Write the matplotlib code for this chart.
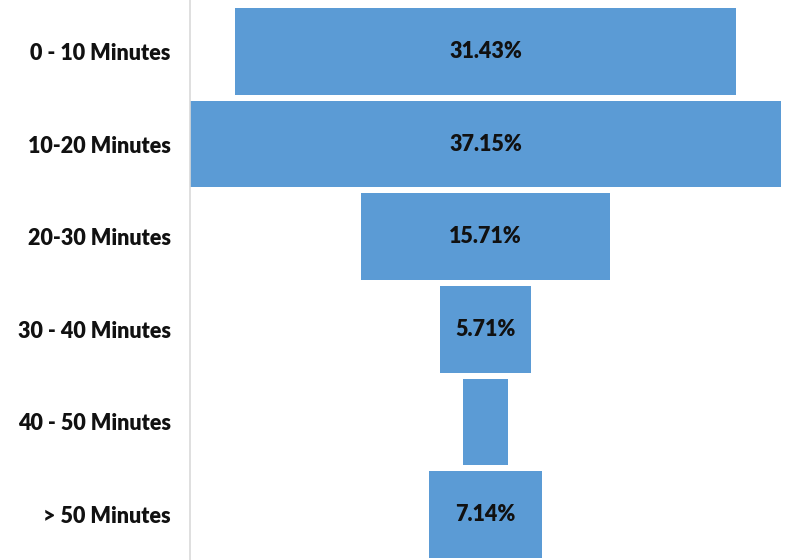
import numpy as np
import matplotlib.pyplot as plt

plt.rcParams['font.family'] = ['Lato', 'DejaVu Sans']

categories = ['0 - 10 Minutes', '10-20 Minutes', '20-30 Minutes',
              '30 - 40 Minutes', '40 - 50 Minutes', '> 50 Minutes']
values = [31.43, 37.15, 15.71, 5.71, 2.86, 7.14]
show_label = [True, True, True, True, False, True]

vmax = max(values)
lefts = [(vmax - v) / 2 for v in values]
ypos = np.arange(len(categories))

fig = plt.figure(figsize=(7.94, 5.60), dpi=100)
ax = fig.add_axes([190 / 794, 0.0, (781 - 190) / 794, 1.0])

ax.barh(ypos, values, left=lefts, height=0.937, color='#5B9BD5')

for y, v, l, s in zip(ypos, values, lefts, show_label):
    if s:
        ax.text(l + v / 2, y, f'{v:.2f}%', ha='center', va='center',
                fontsize=15.5, fontweight='heavy', color='#111111')

ax.set_xlim(0, vmax)
ax.set_ylim(5.49, -0.555)
ax.set_yticks(ypos)
ax.set_yticklabels(categories, fontsize=15.5, fontweight='heavy', color='#111111')
ax.tick_params(axis='y', length=0, pad=14)
ax.set_xticks([])

for side in ['top', 'right', 'bottom']:
    ax.spines[side].set_visible(False)
ax.spines['left'].set_color('#D9D9D9')
ax.spines['left'].set_linewidth(1.2)

fig.savefig('out.png', dpi=100)
